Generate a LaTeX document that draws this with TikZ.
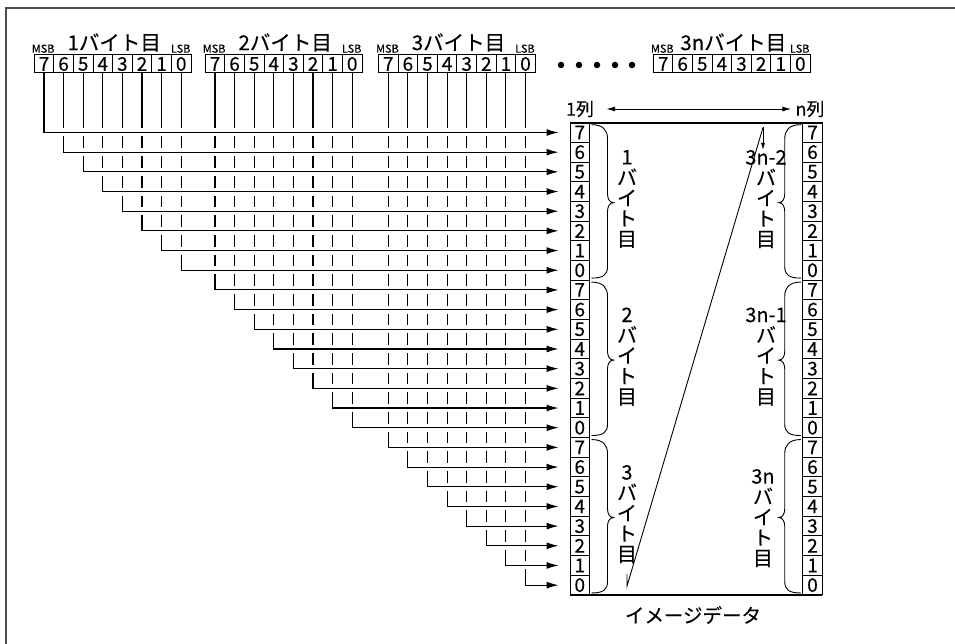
\documentclass[tikz,border=0pt]{standalone}
\usepackage{fontspec}
\newfontfamily\jpfont[FakeBold=0.15]{Noto Sans CJK JP}
\usetikzlibrary{arrows.meta,positioning}
\tikzset{
  bitcell/.style={draw,line width=1pt,minimum width=19.6pt,minimum height=18pt,inner sep=0pt,outer sep=0pt,font=\jpfont\fontsize{19}{19}\selectfont},
  colcell/.style={draw,line width=1pt,minimum width=19.5pt,minimum height=19.68pt,inner sep=0pt,outer sep=0pt,font=\jpfont\fontsize{19}{19}\selectfont},
  bytetitle/.style={font=\jpfont\fontsize{20.5}{22}\selectfont,inner sep=0pt},
  endlabel/.style={font=\jpfont\fontsize{11}{12}\selectfont,inner sep=0pt},
  collabel/.style={font=\jpfont\fontsize{18}{19}\selectfont,inner sep=0pt},
  vlabel/.style={font=\jpfont\fontsize{20}{20.5}\selectfont,align=center,inner sep=0pt},
  dotmark/.style={circle,fill,minimum size=6.5pt,inner sep=0pt},
  wire/.style={line width=1.1pt,-{Latex[length=12pt,width=7pt]},shorten >=11.5pt},
  gapline/.style={draw=white,line width=8pt},
  bracestyle/.style={line width=0.9pt},
  framerule/.style={line width=1.8pt,draw=black!70},
  scanline/.style={line width=0.9pt}
}
% brace beside a column: top anchor, bottom anchor, direction (1 = right, -1 = left)
\newcommand{\colbrace}[3]{%
  \draw[bracestyle] (#1) .. controls +({12*(#3)},0) and +(0,-8) .. ++({16*(#3)},14)
    -- ++(0,55) .. controls +(0,5) and +({-4*(#3)},0) .. ++({6*(#3)},9)
    .. controls +({-4*(#3)},0) and +(0,-5) .. ++({-6*(#3)},9)
    -- ++(0,55) .. controls +(0,8) and +({12*(#3)},0) .. (#2);}

\begin{document}
\begin{tikzpicture}[x=1pt,y=-1pt]
  \useasboundingbox (0,0) rectangle (955,644);
  \draw[framerule] (6,644) -- (6,8) -- (955,8);

  % the bytes
  \foreach \bb/\bx/\ttl in {1/34.2/1バイト目, 2/205.2/2バイト目, 3/378.5/3バイト目, N/653.3/3nバイト目}{
    \foreach \bi [count=\j from 0] in {7,6,...,0}{
      \node[bitcell] (bit\bb-\bi) at ({\bx+9.8+19.6*\j},64) {\bi};
    }
    \node[bytetitle] (ttl\bb) at ({\bx+80},42.5) {\ttl};
    \node[endlabel] (msb\bb) at ({\bx+9},48.7) {MSB};
    \node[endlabel] (lsb\bb) at ({\bx+146.5},48.7) {LSB};
  }
  \foreach \n [count=\k from 0] in {561,579,597,615,632}
    \node[dotmark] (dot\k) at (\n,65) {};

  % image data columns
  \foreach \k in {0,...,23}{
    \pgfmathtruncatemacro\dig{7-mod(\k,8)}
    \node[colcell] (lcol\k) at (579.75,{132.5+19.68*\k}) {\dig};
    \node[colcell] (rcol\k) at (812.5,{132.5+19.68*\k}) {\dig};
  }
  \draw[framerule,draw=black] (lcol0.north west) -- (rcol0.north east);
  \draw[framerule,draw=black] (lcol23.south west) -- (rcol23.south east);

  \node[collabel] (col1) at (580,109) {1列};
  \node[collabel] (coln) at (810,109) {n列};
  \draw[line width=0.9pt,{Latex[length=9pt,width=5pt]}-{Latex[length=9pt,width=5pt]}]
    ([xshift=12pt]col1.east) -- ([xshift=-4pt]coln.west);

  % bits into the first column
  \foreach \k in {23,22,...,0}{
    \pgfmathtruncatemacro\bb{int(\k/8)+1}
    \pgfmathtruncatemacro\bi{7-mod(\k,8)}
    \coordinate (turn\k) at (bit\bb-\bi.south |- lcol\k.west);
    \draw[gapline] ([xshift=2.5pt]turn\k) -- ([xshift=-12pt]lcol\k.west);
    \draw[wire] (bit\bb-\bi.south) |- (lcol\k.west);
  }

  % braces and labels
  \colbrace{[xshift=2pt,yshift=-2pt]lcol0.north east}{[xshift=2pt,yshift=2pt]lcol7.south east}{1}
  \colbrace{[xshift=2pt,yshift=-2pt]lcol8.north east}{[xshift=2pt,yshift=2pt]lcol15.south east}{1}
  \colbrace{[xshift=2pt,yshift=-2pt]lcol16.north east}{[xshift=2pt,yshift=2pt]lcol23.south east}{1}
  \colbrace{[xshift=-2pt,yshift=-2pt]rcol0.north west}{[xshift=-2pt,yshift=2pt]rcol7.south west}{-1}
  \colbrace{[xshift=-2pt,yshift=-2pt]rcol8.north west}{[xshift=-2pt,yshift=2pt]rcol15.south west}{-1}
  \colbrace{[xshift=-2pt,yshift=-2pt]rcol16.north west}{[xshift=-2pt,yshift=2pt]rcol23.south west}{-1}
  \node[vlabel] (lab1) at (627,199) {1\\バ\\イ\\ト\\目};
  \node[vlabel] (lab2) at (627,356.5) {2\\バ\\イ\\ト\\目};
  \node[vlabel] (lab3) at (627,514) {3\\バ\\イ\\ト\\目};
  \node[vlabel] (labn2) at (766,199) {3n-2\\バ\\イ\\ト\\目};
  \node[vlabel] (labn1) at (766,356.5) {3n-1\\バ\\イ\\ト\\目};
  \node[vlabel] (labn) at (763,518) {3n\\バ\\イ\\ト\\目};

  % scan order
  \coordinate (scanA) at (627,574);
  \coordinate (scanB) at (627,586);
  \coordinate (scanC) at (763,127.5);
  \coordinate (scanD) at (763,150);
  \draw[scanline] (scanA) -- (scanB) -- (scanC);
  \draw[scanline,-{Latex[length=7pt,width=4pt]}] (scanC) -- (scanD);

  \node[bytetitle,font=\jpfont\fontsize{19.5}{20}\selectfont] (imgtitle) at (693,615) {イメージデータ};
\end{tikzpicture}
\end{document}
